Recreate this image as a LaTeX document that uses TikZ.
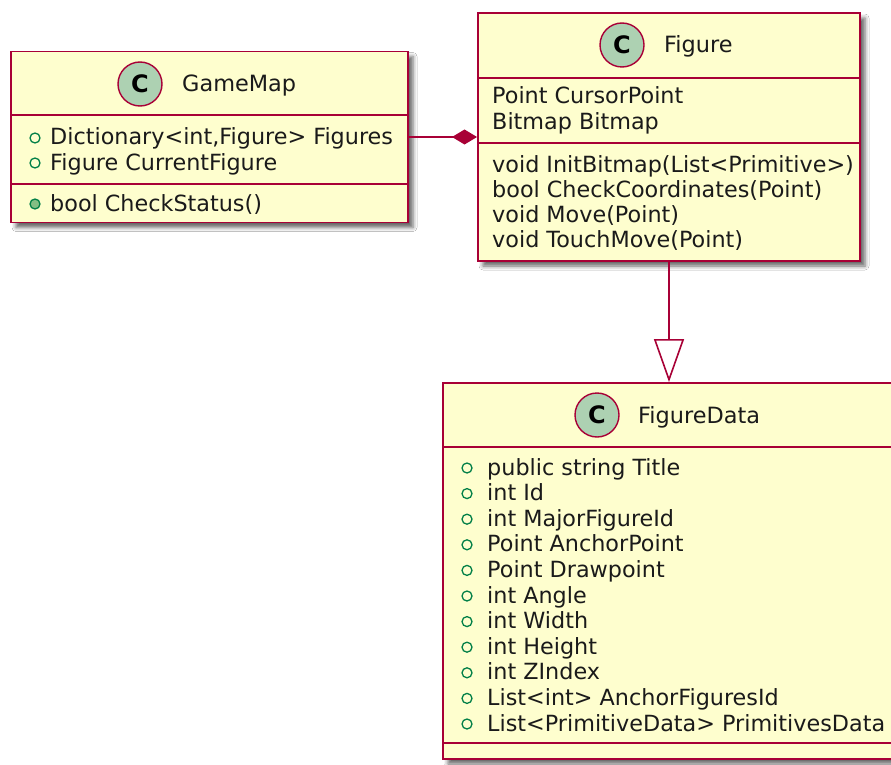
\documentclass[tikz,border=0pt]{standalone}
\usepackage{fontspec}
\setmainfont{DejaVu Sans}
\usetikzlibrary{arrows.meta,shadows.blur}

\definecolor{umlfill}{HTML}{FEFECE}
\definecolor{umlline}{HTML}{A80036}
\definecolor{umlspot}{HTML}{ADD1B2}
\definecolor{umlgreen}{HTML}{038048}
\definecolor{umlgreenfill}{HTML}{84BE84}
\definecolor{umltext}{HTML}{1A1A1A}

\tikzset{
  classbox/.style={rectangle, draw=umlline, fill=umlfill, line width=1.9pt, inner sep=0pt,
    blur shadow={shadow xshift=5pt, shadow yshift=-5pt, shadow blur radius=4pt, shadow opacity=60}},
  spot/.style={circle, draw=umlline, fill=umlspot, line width=1.4pt, minimum size=44pt,
    inner sep=0pt, font=\fontsize{24}{24}\selectfont\bfseries, text=black},
  classname/.style={anchor=base west, inner sep=0pt, text=umltext, font=\fontsize{22.4}{26}\selectfont},
  member/.style={anchor=base west, inner sep=0pt, text=umltext, font=\fontsize{22.3}{26}\selectfont},
  pubfield/.style={circle, draw=umlgreen, line width=1.3pt, minimum size=10pt, inner sep=0pt},
  pubmethod/.style={pubfield, fill=umlgreenfill},
  divider/.style={draw=umlline, line width=1.9pt},
  composition/.style={draw=umlline, line width=1.6pt,
    -{Diamond[length=25pt,width=15pt,fill=umlline]}},
  generalization/.style={draw=umlline, line width=1.6pt,
    -{Triangle[open,length=43pt,width=30pt,fill=white,line width=1.6pt]}},
}

\begin{document}
\begin{tikzpicture}[x=1pt,y=-1pt]
  \useasboundingbox (0,0) rectangle (891,765);
  \fill[white] (0,0) rectangle (891,765);

  % ---------- GameMap ----------
  \node[classbox, minimum width=397pt, minimum height=171pt] (gm) at (209.5,137) {};
  \draw[divider] (gm.west |- 0,115) -- (gm.east |- 0,115);
  \draw[divider] (gm.west |- 0,184) -- (gm.east |- 0,184);
  \node[spot] (gmspot) at (140,84) {C};
  \node[classname] (gmname) at (182,92) {GameMap};
  \node[pubfield] (gmm1) at (35,138) {};
  \node[member] (gmt1) at (50,144) {Dictionary<int,Figure> Figures};
  \node[pubfield] (gmm2) at (35,163) {};
  \node[member] (gmt2) at (50,170) {Figure CurrentFigure};
  \node[pubmethod] (gmm3) at (35,204) {};
  \node[member] (gmt3) at (50,211) {bool CheckStatus()};

  % ---------- Figure ----------
  \node[classbox, minimum width=382pt, minimum height=248pt] (fig) at (669,137) {};
  \draw[divider] (fig.west |- 0,78) -- (fig.east |- 0,78);
  \draw[divider] (fig.west |- 0,143) -- (fig.east |- 0,143);
  \node[spot] (figspot) at (622,45) {C};
  \node[classname] (figname) at (664,53) {Figure};
  \node[member] (ft1) at (492,104) {Point CursorPoint};
  \node[member] (ft2) at (492,130) {Bitmap Bitmap};
  \node[member] (ft3) at (492,172) {void InitBitmap(List<Primitive>)};
  \node[member] (ft4) at (492,197) {bool CheckCoordinates(Point)};
  \node[member] (ft5) at (492,222) {void Move(Point)};
  \node[member] (ft6) at (492,247) {void TouchMove(Point)};

  % ---------- FigureData ----------
  \node[classbox, minimum width=456pt, minimum height=376pt] (fd) at (671,571) {};
  \draw[divider] (fd.west |- 0,447) -- (fd.east |- 0,447);
  \draw[divider] (fd.west |- 0,743) -- (fd.east |- 0,743);
  \node[spot] (fdspot) at (597,415) {C};
  \node[classname] (fdname) at (638,423) {FigureData};
  \foreach \txt [count=\i] in {public string Title, int Id, int MajorFigureId,
      Point AnchorPoint, Point Drawpoint, int Angle, int Width, int Height,
      int ZIndex, List<int> AnchorFiguresId, List<PrimitiveData> PrimitivesData} {
    \pgfmathsetmacro{\yy}{468+25.6*(\i-1)}
    \node[pubfield] (fdm\i) at (467,\yy) {};
    \node[member] (fdt\i) at (487,\yy+7) {\txt};
  }

  % ---------- relations ----------
  \draw[composition] (gm.east) -- (fig.west);
  \draw[generalization] (fig.south) -- (fig.south |- fd.north);
\end{tikzpicture}
\end{document}
